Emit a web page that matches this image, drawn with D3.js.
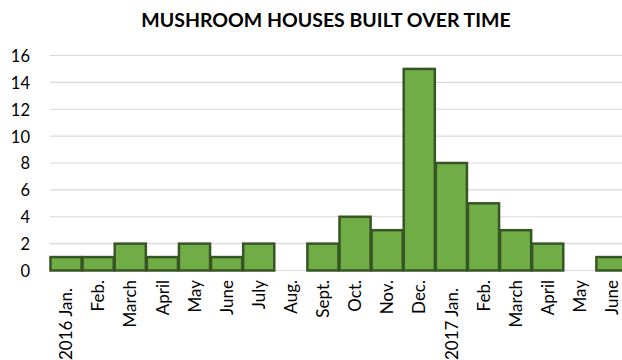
<!DOCTYPE html>
<html><head><meta charset="utf-8">
<script src="https://cdn.jsdelivr.net/npm/d3@7"></script>
<style>body{margin:0;background:#fff}svg{display:block}</style>
</head><body>
<svg id="c" width="622" height="360"></svg>
<script>
const title = "MUSHROOM HOUSES BUILT OVER TIME";
const categories = ["2016 Jan.","Feb.","March","April","May","June","July","Aug.","Sept.","Oct.","Nov.","Dec.","2017 Jan.","Feb.","March","April","May","June"];
const values = [1,1,2,1,2,1,2,0,2,4,3,15,8,5,3,2,0,1];
const yTicks = [0,2,4,6,8,10,12,14,16];

const svg = d3.select("#c");
const font = "Lato, 'Open Sans', sans-serif";
const x = d3.scaleBand().domain(d3.range(categories.length)).range([50, 628]).paddingInner(0).paddingOuter(0);
const y = d3.scaleLinear().domain([0,16]).range([270.5, 55.5]);

svg.append("text").attr("x", 326).attr("y", 27).attr("text-anchor","middle")
  .attr("font-family", font).attr("font-weight","bold").attr("font-size", 19.5).attr("fill","#000").text(title);

// gridlines
svg.append("g").selectAll("line").data(yTicks).join("line")
  .attr("x1", 50).attr("x2", 628).attr("y1", d=>y(d)).attr("y2", d=>y(d))
  .attr("stroke","#d9d9d9").attr("stroke-width",1.2);

// y labels
const yAxis = d3.axisLeft(y).tickValues(yTicks).tickSize(0).tickPadding(0);
const ya = svg.append("g").attr("transform","translate(30,0)").call(yAxis);
ya.select(".domain").remove();
ya.selectAll("text").attr("font-family", font).attr("font-size", 16.5).attr("fill","#000").attr("dy","0.36em");

// bars
svg.append("g").selectAll("rect").data(values.map((v,i)=>({v,i})).filter(d=>d.v>0)).join("rect")
  .attr("x", d=>x(d.i)+0.5).attr("y", d=>y(d.v)).attr("width", x.bandwidth()-1).attr("height", d=>y(0)-y(d.v))
  .attr("fill","#70AD47").attr("stroke","#375623").attr("stroke-width",2.5);

// x labels
const xAxis = d3.axisBottom(x).tickFormat(i=>categories[i]).tickSize(0).tickPadding(0);
const xa = svg.append("g").call(xAxis);
xa.select(".domain").remove();
xa.selectAll("text")
  .attr("font-family", font).attr("font-size", 17).attr("fill","#000")
  .attr("text-anchor","end")
  .attr("transform", (d)=>`translate(0,${categories[d].length>8?288:280}) rotate(-90)`)
  .attr("x",0).attr("y",0).attr("dy","0.36em");
</script>
</body></html>
